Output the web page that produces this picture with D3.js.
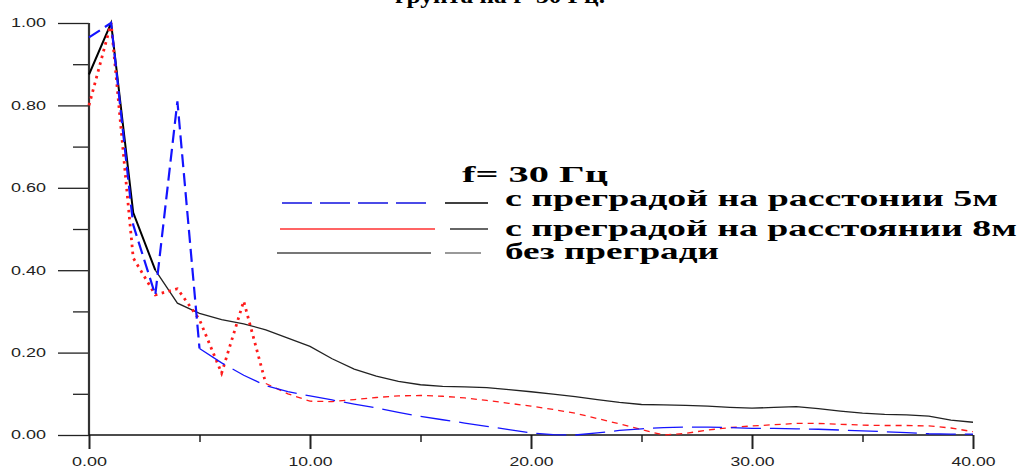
<!DOCTYPE html>
<html>
<head>
<meta charset="utf-8">
<script src="https://cdn.jsdelivr.net/npm/d3@7"></script>
<style>
  html, body { margin: 0; padding: 0; background: #fff; }
  svg { display: block; }
</style>
</head>
<body>
<svg id="chart" width="1022" height="468"></svg>
<script>
// Distance along the profile, m
const distance = [0,1,2,3,4,5,6,7,8,9,10,11,12,13,14,15,16,17,18,19,20,
                  21,22,23,24,25,26,27,28,29,30,31,32,33,34,35,36,37,38,39,40];

// Normalised amplitude, barrier at 5 m
const barrier5 = [0.965,1.0,0.51,0.34,0.81,0.21,0.175,0.145,0.12,0.105,0.095,
                  0.085,0.075,0.066,0.055,0.045,0.037,0.029,0.021,0.013,0.005,
                  0.001,0.0,0.005,0.011,0.015,0.018,0.019,0.019,0.018,0.016,
                  0.016,0.015,0.014,0.012,0.010,0.008,0.006,0.003,0.002,0.002];

// Normalised amplitude, barrier at 8 m
const barrier8 = [0.80,1.0,0.43,0.34,0.355,0.28,0.15,0.325,0.125,0.10,0.082,
                  0.081,0.086,0.091,0.095,0.096,0.094,0.09,0.084,0.077,0.07,
                  0.062,0.053,0.04,0.027,0.013,0.0,0.004,0.012,0.018,0.022,
                  0.025,0.028,0.028,0.026,0.024,0.023,0.023,0.022,0.017,0.008];

// Normalised amplitude, no barrier
const noBarrier = [0.875,1.0,0.54,0.40,0.32,0.295,0.28,0.27,0.255,0.235,0.215,
                   0.185,0.16,0.143,0.13,0.122,0.118,0.117,0.115,0.11,0.105,
                   0.099,0.093,0.086,0.079,0.074,0.073,0.072,0.070,0.067,0.065,
                   0.067,0.069,0.064,0.058,0.053,0.050,0.049,0.046,0.036,0.031];

const xMajorTicks = [0, 10, 20, 30, 40];
const xMinorTicks = [5, 15, 25, 35];
const yMajorTicks = [0, 0.2, 0.4, 0.6, 0.8, 1.0];
const yMinorTicks = [0.1, 0.3, 0.5, 0.7, 0.9];

const titleText = "грунта на f=30 Гц.";
const legendHeader = "f= 30 Гц";
const legendLabels = ["с преградой на расстонии 5м",
                      "с преградой на расстоянии 8м",
                      "без прегради"];

const svg = d3.select("#chart");

const x = d3.scaleLinear().domain([0, 40]).range([89, 973]);
const y = d3.scaleLinear().domain([0, 1]).range([435, 23]);

const fmt = d3.format(".2f");
const axisFont = "'Liberation Sans', Arial, sans-serif";
const serif = "'Liberation Serif', 'Times New Roman', serif";

// Title (only its lower edge fits in the frame)
svg.append("text")
  .attr("x", 395).attr("y", 3)
  .attr("font-family", serif).attr("font-weight", "bold")
  .attr("font-size", 22)
  .attr("textLength", 210).attr("lengthAdjust", "spacingAndGlyphs")
  .attr("fill", "#000")
  .text(titleText);

// ---- Y axis ----
const yMajor = svg.append("g").attr("transform", "translate(89,0)")
  .call(d3.axisLeft(y).tickValues(yMajorTicks).tickSize(31).tickPadding(12)
        .tickSizeOuter(0).tickFormat(fmt));
yMajor.select(".domain").remove();
yMajor.selectAll(".tick line").attr("stroke", "#222").attr("stroke-width", 1.3);
yMajor.selectAll(".tick text")
  .attr("font-family", axisFont).attr("font-size", 12).attr("fill", "#222")
  .attr("textLength", 35).attr("lengthAdjust", "spacingAndGlyphs");

const yMinor = svg.append("g").attr("transform", "translate(89,0)")
  .call(d3.axisLeft(y).tickValues(yMinorTicks).tickSize(16)
        .tickSizeOuter(0).tickFormat(""));
yMinor.select(".domain").remove();
yMinor.selectAll(".tick line").attr("stroke", "#222").attr("stroke-width", 1.3);

// ---- X axis ----
const xMajor = svg.append("g").attr("transform", "translate(0,435)")
  .call(d3.axisBottom(x).tickValues(xMajorTicks).tickSize(14).tickPadding(8)
        .tickSizeOuter(0).tickFormat(fmt));
xMajor.select(".domain").remove();
xMajor.selectAll(".tick line").attr("stroke", "#222").attr("stroke-width", 2);
xMajor.selectAll(".tick text")
  .attr("font-family", axisFont).attr("font-size", 12).attr("fill", "#222")
  .each(function(d) {
    d3.select(this).attr("textLength", d >= 10 ? 44 : 35)
      .attr("lengthAdjust", "spacingAndGlyphs");
  });

const xMinor = svg.append("g").attr("transform", "translate(0,435)")
  .call(d3.axisBottom(x).tickValues(xMinorTicks).tickSize(7)
        .tickSizeOuter(0).tickFormat(""));
xMinor.select(".domain").remove();
xMinor.selectAll(".tick line").attr("stroke", "#222").attr("stroke-width", 1.5);

// Axis lines
svg.append("line")
  .attr("x1", x(0)).attr("x2", x(0)).attr("y1", y(1)).attr("y2", y(0))
  .attr("stroke", "#333").attr("stroke-width", 2.2);
svg.append("line")
  .attr("x1", x(0)).attr("x2", x(40)).attr("y1", y(0)).attr("y2", y(0))
  .attr("stroke", "#111").attr("stroke-width", 1.6);

// ---- Series ----
const line = d3.line().x(d => x(d[0])).y(d => y(d[1]));
const pts = vals => distance.map((d, i) => [d, vals[i]]);

// No barrier: solid dark line, heavier near the source
const p0 = pts(noBarrier);
svg.append("path")
  .attr("d", line(p0.slice(3)))
  .attr("fill", "none").attr("stroke", "#222").attr("stroke-width", 1.3);
svg.append("path")
  .attr("d", line(p0.slice(0, 4)))
  .attr("fill", "none").attr("stroke", "#000").attr("stroke-width", 2);

// Barrier at 8 m: dotted near the source, thin dashes further on
const p8 = pts(barrier8);
svg.append("path")
  .attr("d", line(p8.slice(8)))
  .attr("fill", "none").attr("stroke", "#ff1a1a").attr("stroke-width", 1.3)
  .attr("stroke-dasharray", "6,5");
svg.append("path")
  .attr("d", line(p8.slice(0, 9)))
  .attr("fill", "none").attr("stroke", "#ff1a1a").attr("stroke-width", 2.8)
  .attr("stroke-dasharray", "2.5,4.5");

// Barrier at 5 m: short heavy dashes near the source, long dashes further on
const p5 = pts(barrier5);
svg.append("path")
  .attr("d", line(p5.slice(5)))
  .attr("fill", "none").attr("stroke", "#1414ff").attr("stroke-width", 1.3)
  .attr("stroke-dasharray", "30,9");
svg.append("path")
  .attr("d", line(p5.slice(0, 6)))
  .attr("fill", "none").attr("stroke", "#1414ff").attr("stroke-width", 2.2)
  .attr("stroke-dasharray", "13,6");

// ---- Legend ----
const legend = svg.append("g");
legend.append("text")
  .attr("x", 462).attr("y", 182)
  .attr("font-family", serif).attr("font-weight", "bold").attr("font-size", 23)
  .attr("textLength", 146).attr("lengthAdjust", "spacingAndGlyphs")
  .text(legendHeader);

const legendRows = [
  { y: 203, x1: 282, x2: 431, color: "#1010e0", width: 1.3, dash: "30,8",
    sx1: 445, sx2: 488, scolor: "#000", label: legendLabels[0], ty: 206, tw: 493 },
  { y: 229, x1: 280, x2: 435, color: "#ff3030", width: 1.3, dash: null,
    sx1: 450, sx2: 488, scolor: "#333", label: legendLabels[1], ty: 236, tw: 512 },
  { y: 253, x1: 277, x2: 431, color: "#777", width: 2, dash: null,
    sx1: 445, sx2: 481, scolor: "#777", label: legendLabels[2], ty: 259, tw: 214 }
];

legendRows.forEach(r => {
  const l = legend.append("line")
    .attr("x1", r.x1).attr("x2", r.x2).attr("y1", r.y).attr("y2", r.y)
    .attr("stroke", r.color).attr("stroke-width", r.width);
  if (r.dash) l.attr("stroke-dasharray", r.dash);
  legend.append("line")
    .attr("x1", r.sx1).attr("x2", r.sx2).attr("y1", r.y).attr("y2", r.y)
    .attr("stroke", r.scolor).attr("stroke-width", 1.6);
  legend.append("text")
    .attr("x", 505).attr("y", r.ty)
    .attr("font-family", serif).attr("font-weight", "bold").attr("font-size", 23)
    .attr("textLength", r.tw).attr("lengthAdjust", "spacingAndGlyphs")
    .text(r.label);
});
</script>
</body>
</html>
